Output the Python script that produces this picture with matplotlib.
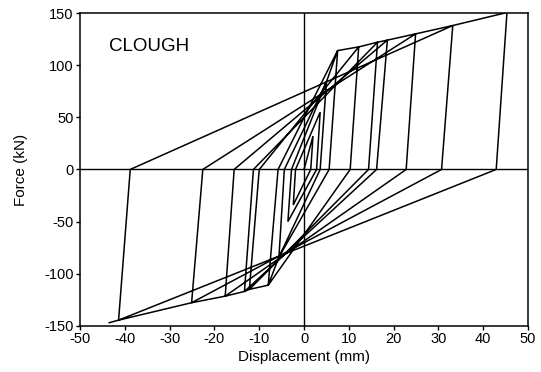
import matplotlib
matplotlib.use("Agg")
import matplotlib.pyplot as plt

plt.rcParams['font.family'] = ['Liberation Sans', 'DejaVu Sans']
plt.rcParams['axes.unicode_minus'] = False

# Clough hysteresis path: displacement (mm), force (kN)
disp = [0.0, 2.0, 1.5, -2.4, -1.9, 3.6, 2.8, -3.6, -2.8, 5.0, 3.6, -5.6, -4.4,
        5.0, 7.5, 5.6, -5.6, -8.0, -5.8,
        7.5, 12.2, 10.3, -8.0, -12.2, -10.0,
        12.2, 16.4, 14.4, -12.2, -13.3, -11.3,
        16.4, 18.6, 16.2, -13.3, -17.6, -15.6,
        18.6, 24.9, 22.8, -17.6, -25.1, -22.6,
        24.9, 33.2, 30.7, -25.1, -41.4, -38.8,
        33.2, 45.3, 42.9, -41.4, -43.5]
force = [0, 32, 0, -34, 0, 55, 0, -50, 0, 84, 0, -84, 0,
         84, 114, 0, -84, -111, 0,
         114, 117.5, 0, -111, -115, 0,
         117.5, 122, 0, -115, -117, 0,
         122, 124, 0, -117, -121.5, 0,
         124, 130, 0, -121.5, -127.8, 0,
         130, 138, 0, -127.8, -144.5, 0,
         138, 150.5, 0, -144.5, -147]

xticks = [-50, -40, -30, -20, -10, 0, 10, 20, 30, 40, 50]
yticks = [-150, -100, -50, 0, 50, 100, 150]

fig = plt.figure(figsize=(5.41, 3.72), dpi=100)
ax = fig.add_axes([0.148, 0.124, 0.828, 0.841])

ax.axhline(0, color='black', lw=1.0)
ax.axvline(0, color='black', lw=1.0)
ax.plot(disp, force, color='black', lw=1.1, solid_joinstyle='miter')

ax.text(-43.5, 118, 'CLOUGH', fontsize=13.5, va='center', ha='left')

ax.set_xlim(-50, 50)
ax.set_ylim(-150, 150)
ax.set_xticks(xticks)
ax.set_yticks(yticks)
ax.tick_params(direction='out', length=3, width=1, labelsize=10.5, pad=1.5)
for s in ax.spines.values():
    s.set_linewidth(1.1)

ax.set_xlabel('Displacement (mm)', fontsize=11, labelpad=3)
ax.set_ylabel('Force (kN)', fontsize=11, labelpad=12)

fig.savefig('out.png', dpi=100)
